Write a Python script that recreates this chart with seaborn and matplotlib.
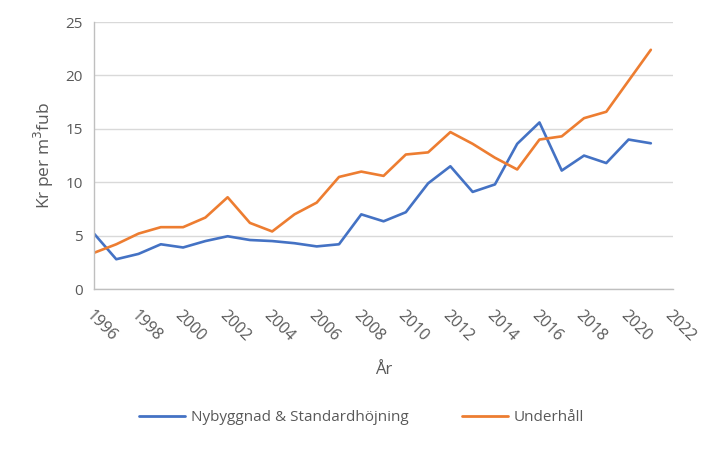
import numpy as np
import pandas as pd
import seaborn as sns
import matplotlib.pyplot as plt

years = list(range(1996, 2022))
nybyggnad = [5.2, 2.8, 3.3, 4.2, 3.9, 4.5, 4.95, 4.6, 4.5, 4.3, 4.0, 4.2, 7.0,
             6.35, 7.2, 9.9, 11.5, 9.1, 9.8, 13.6, 15.6, 11.1, 12.5, 11.8, 14.0, 13.65]
underhall = [3.4, 4.2, 5.2, 5.8, 5.8, 6.7, 8.6, 6.2, 5.4, 7.0, 8.1, 10.5, 11.0,
             10.6, 12.6, 12.8, 14.7, 13.6, 12.3, 11.2, 14.0, 14.3, 16.0, 16.6, 19.5, 22.4]
series_names = ['Nybyggnad & Standardhöjning', 'Underhåll']
x_ticks = list(range(1996, 2023, 2))
y_ticks = [0, 5, 10, 15, 20, 25]

df = pd.DataFrame({
    'År': years * 2,
    'Värde': nybyggnad + underhall,
    'Serie': [series_names[0]] * len(years) + [series_names[1]] * len(years),
})

sns.set_style('white')
plt.rcParams['font.family'] = ['Open Sans', 'DejaVu Sans']
text_col = '#595959'
grid_col = '#D9D9D9'

fig = plt.figure(figsize=(7.23, 4.49), dpi=100)
ax = fig.add_axes([0.130, 0.356, 0.801, 0.595])

sns.lineplot(data=df, x='År', y='Värde', hue='Serie',
             palette=['#4472C4', '#ED7D31'], linewidth=1.9, ax=ax, legend=False)

ax.set_xlim(1996, 2022)
ax.set_ylim(0, 25)
ax.set_xticks(x_ticks)
ax.set_xticklabels([str(t) for t in x_ticks], rotation=-45, ha='left',
                   rotation_mode='anchor', fontsize=11.5, color=text_col)
ax.set_yticks(y_ticks)
ax.set_yticklabels([str(t) for t in y_ticks], fontsize=11, color=text_col)
ax.yaxis.grid(True, color=grid_col, linewidth=1.0)
ax.set_axisbelow(True)

for s in ['top', 'right']:
    ax.spines[s].set_visible(False)
for s in ['left', 'bottom']:
    ax.spines[s].set_color('#BFBFBF')
    ax.spines[s].set_linewidth(1.0)
ax.tick_params(axis='x', direction='in', length=5, color='#BFBFBF', pad=13)
ax.tick_params(axis='y', length=0, pad=8)

ax.set_xlabel('År', fontsize=12, color=text_col, labelpad=13)
ax.set_ylabel('Kr per m$^3$fub', fontsize=12.5, color=text_col, labelpad=7)

handles = [plt.Line2D([], [], color=c, linewidth=2.0) for c in ['#4472C4', '#ED7D31']]
fig.legend(handles, series_names, loc='center', bbox_to_anchor=(0.5, 0.07),
           ncol=2, frameon=False, fontsize=11, labelcolor=text_col,
           handlelength=3.0, columnspacing=3.5, handletextpad=0.4)

fig.savefig('out.png', dpi=100)
